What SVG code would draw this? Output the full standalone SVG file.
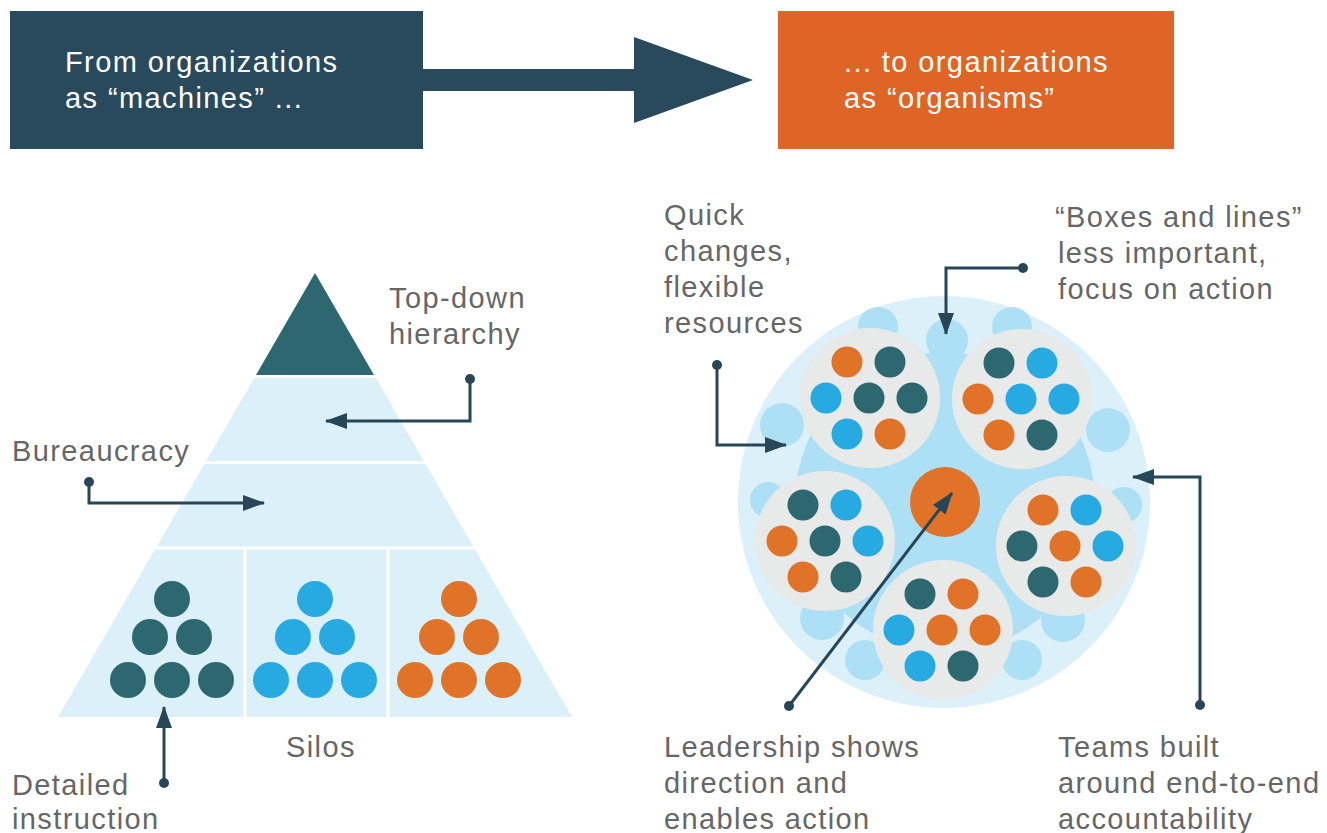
<svg xmlns="http://www.w3.org/2000/svg" width="1327" height="833" viewBox="0 0 1327 833">
<defs>
<style>
.hdr{font-family:"Liberation Sans",Arial,Helvetica,sans-serif;font-size:29px;fill:#ffffff;letter-spacing:1.4px}
.lbl{font-family:"Liberation Sans",Arial,Helvetica,sans-serif;font-size:29px;fill:#666666;letter-spacing:1.4px}
.con{fill:none;stroke:#274658;stroke-width:3}
.dot{fill:#274658}
.dk{fill:#2d6870}
.bl{fill:#27a9e1}
.or{fill:#e07328}
.gray{fill:#e8e9e9}
.blob{fill:#ade0f4}
.sep{stroke:#ffffff;stroke-width:3}
</style>
<marker id="ah" markerWidth="22" markerHeight="16" refX="21" refY="8" orient="auto" markerUnits="userSpaceOnUse">
<path d="M0,0 L22,8 L0,16 Z" fill="#274658"/>
</marker>
</defs>
<rect width="1327" height="833" fill="#ffffff"/>

<g id="header-from">
<rect x="10" y="11" width="413" height="138" fill="#284a5c"/>
<text class="hdr" x="65" y="72">From organizations</text>
<text class="hdr" x="65" y="108">as “machines” ...</text>
</g>
<g id="header-arrow">
<path d="M423,69 L634,69 L634,37 L753,80 L634,123 L634,91 L423,91 Z" fill="#284a5c"/>
</g>
<g id="header-to">
<rect x="778" y="11" width="396" height="138" fill="#df6527"/>
<text class="hdr" x="844" y="72">... to organizations</text>
<text class="hdr" x="844" y="108">as “organisms”</text>
</g>

<g id="pyramid">
<polygon points="315,273 572,717 58,717" fill="#dcf0f9"/>
<polygon points="315,273 374,375 256,375" class="dk"/>
<line class="sep" x1="40" y1="376.5" x2="600" y2="376.5"/>
<line class="sep" x1="40" y1="462.5" x2="600" y2="462.5"/>
<line class="sep" x1="40" y1="548" x2="600" y2="548"/>
<line class="sep" x1="245" y1="548" x2="245" y2="717"/>
<line class="sep" x1="388" y1="548" x2="388" y2="717"/>
</g>
<g id="silo-dark">
<circle class="dk" cx="172" cy="599" r="18"/>
<circle class="dk" cx="150" cy="637" r="18"/>
<circle class="dk" cx="194" cy="637" r="18"/>
<circle class="dk" cx="128" cy="680" r="18"/>
<circle class="dk" cx="172" cy="680" r="18"/>
<circle class="dk" cx="216" cy="680" r="18"/>
</g>
<g id="silo-blue">
<circle class="bl" cx="315" cy="599" r="18"/>
<circle class="bl" cx="293" cy="637" r="18"/>
<circle class="bl" cx="337" cy="637" r="18"/>
<circle class="bl" cx="271" cy="680" r="18"/>
<circle class="bl" cx="315" cy="680" r="18"/>
<circle class="bl" cx="359" cy="680" r="18"/>
</g>
<g id="silo-orange">
<circle class="or" cx="459" cy="599" r="18"/>
<circle class="or" cx="437" cy="637" r="18"/>
<circle class="or" cx="481" cy="637" r="18"/>
<circle class="or" cx="415" cy="680" r="18"/>
<circle class="or" cx="459" cy="680" r="18"/>
<circle class="or" cx="503" cy="680" r="18"/>
</g>

<g id="organism">
<circle cx="944" cy="502" r="206" fill="#dcf0f9"/>
<circle class="blob" cx="945" cy="502" r="150"/>
<circle class="blob" cx="947" cy="340" r="21"/>
<circle class="blob" cx="878" cy="327" r="20"/>
<circle class="blob" cx="1012" cy="327" r="20"/>
<circle class="blob" cx="782" cy="425" r="22"/>
<circle class="blob" cx="1108" cy="430" r="22"/>
<circle class="blob" cx="768" cy="500" r="18"/>
<circle class="blob" cx="1124" cy="505" r="18"/>
<circle class="blob" cx="822" cy="618" r="22"/>
<circle class="blob" cx="1063" cy="620" r="22"/>
<circle class="blob" cx="865" cy="660" r="20"/>
<circle class="blob" cx="1022" cy="660" r="20"/>
</g>
<g id="team-top-left">
<circle class="gray" cx="870" cy="398" r="70"/>
<circle class="or" cx="847" cy="362" r="15.5"/>
<circle class="dk" cx="890" cy="362" r="15.5"/>
<circle class="bl" cx="826" cy="398" r="15.5"/>
<circle class="dk" cx="869" cy="398" r="15.5"/>
<circle class="dk" cx="912" cy="398" r="15.5"/>
<circle class="bl" cx="847" cy="434" r="15.5"/>
<circle class="or" cx="890" cy="434" r="15.5"/>
</g>
<g id="team-top-right">
<circle class="gray" cx="1022" cy="399" r="70"/>
<circle class="dk" cx="999" cy="363" r="15.5"/>
<circle class="bl" cx="1042" cy="363" r="15.5"/>
<circle class="or" cx="978" cy="399" r="15.5"/>
<circle class="bl" cx="1021" cy="399" r="15.5"/>
<circle class="bl" cx="1064" cy="399" r="15.5"/>
<circle class="or" cx="999" cy="435" r="15.5"/>
<circle class="dk" cx="1042" cy="435" r="15.5"/>
</g>
<g id="team-left">
<circle class="gray" cx="825" cy="541" r="70"/>
<circle class="dk" cx="803" cy="505" r="15.5"/>
<circle class="bl" cx="846" cy="505" r="15.5"/>
<circle class="or" cx="782" cy="541" r="15.5"/>
<circle class="dk" cx="825" cy="541" r="15.5"/>
<circle class="bl" cx="868" cy="541" r="15.5"/>
<circle class="or" cx="803" cy="577" r="15.5"/>
<circle class="dk" cx="846" cy="577" r="15.5"/>
</g>
<g id="team-right">
<circle class="gray" cx="1066" cy="546" r="70"/>
<circle class="or" cx="1043" cy="510" r="15.5"/>
<circle class="bl" cx="1086" cy="510" r="15.5"/>
<circle class="dk" cx="1022" cy="546" r="15.5"/>
<circle class="or" cx="1065" cy="546" r="15.5"/>
<circle class="bl" cx="1108" cy="546" r="15.5"/>
<circle class="dk" cx="1043" cy="582" r="15.5"/>
<circle class="or" cx="1086" cy="582" r="15.5"/>
</g>
<g id="team-bottom">
<circle class="gray" cx="943" cy="630" r="70"/>
<circle class="dk" cx="920" cy="594" r="15.5"/>
<circle class="or" cx="963" cy="594" r="15.5"/>
<circle class="bl" cx="899" cy="630" r="15.5"/>
<circle class="or" cx="942" cy="630" r="15.5"/>
<circle class="or" cx="985" cy="630" r="15.5"/>
<circle class="bl" cx="920" cy="666" r="15.5"/>
<circle class="dk" cx="963" cy="666" r="15.5"/>
</g>
<g id="leader">
<circle class="or" cx="945" cy="502" r="35"/>
</g>

<g id="labels">
<text class="lbl" x="389" y="308">Top-down</text>
<text class="lbl" x="389" y="344">hierarchy</text>
<text class="lbl" x="12" y="461">Bureaucracy</text>
<text class="lbl" x="286" y="757">Silos</text>
<text class="lbl" x="12" y="795">Detailed</text>
<text class="lbl" x="12" y="829">instruction</text>
<text class="lbl" x="664" y="225">Quick</text>
<text class="lbl" x="664" y="261">changes,</text>
<text class="lbl" x="664" y="297">flexible</text>
<text class="lbl" x="664" y="333">resources</text>
<text class="lbl" x="1055" y="227">“Boxes and lines”</text>
<text class="lbl" x="1058" y="263">less important,</text>
<text class="lbl" x="1058" y="299">focus on action</text>
<text class="lbl" x="664" y="757">Leadership shows</text>
<text class="lbl" x="664" y="793">direction and</text>
<text class="lbl" x="664" y="829">enables action</text>
<text class="lbl" x="1058" y="757">Teams built</text>
<text class="lbl" x="1058" y="793">around end-to-end</text>
<text class="lbl" x="1058" y="829">accountability</text>
</g>

<g id="connectors">
<polyline class="con" points="470,379 470,421 326,421" marker-end="url(#ah)"/>
<circle class="dot" cx="470" cy="379" r="5"/>
<polyline class="con" points="89,482 89,503 264,503" marker-end="url(#ah)"/>
<circle class="dot" cx="89" cy="482" r="5"/>
<polyline class="con" points="164,783 164,707" marker-end="url(#ah)"/>
<circle class="dot" cx="164" cy="783" r="5"/>
<polyline class="con" points="1023,268 946,268 946,334" marker-end="url(#ah)"/>
<circle class="dot" cx="1023" cy="268" r="5"/>
<polyline class="con" points="717,365 717,445 786,445" marker-end="url(#ah)"/>
<circle class="dot" cx="717" cy="365" r="5"/>
<polyline class="con" points="1200,705 1200,477 1133,477" marker-end="url(#ah)"/>
<circle class="dot" cx="1200" cy="705" r="5"/>
<line class="con" x1="789" y1="706" x2="952" y2="493" stroke-width="2.5" marker-end="url(#ah)"/>
<circle class="dot" cx="789" cy="706" r="5"/>
</g>
</svg>
